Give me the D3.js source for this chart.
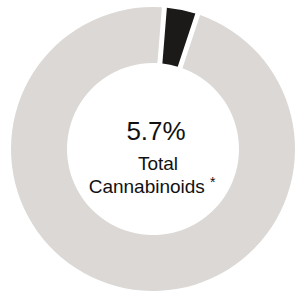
<!DOCTYPE html>
<html>
<head>
<meta charset="utf-8">
<script src="https://cdn.jsdelivr.net/npm/d3@7"></script>
<style>
  body { margin: 0; background: #fff; }
  text { font-family: "Liberation Sans", Arial, sans-serif; fill: #111; }
</style>
</head>
<body>
<div id="chart"></div>
<script>
const WIDTH = 303, HEIGHT = 295;
const CX = 153, CY = 149;
const OUTER_R = 142, INNER_R = 86;

// slices, clockwise from the black one
const slices = ["Cannabinoids", "Other"];
const values = [3.3, 96.7];
const colors = ["#1c1a19", "#dbd8d5"];
const labelLines = ["5.7%", "Total", "Cannabinoids"];

const svg = d3.select("#chart")
    .append("svg")
    .attr("width", WIDTH)
    .attr("height", HEIGHT)
    .append("g").attr("transform", "translate(" + CX + "," + CY + ")");

const startA = 4.6 * Math.PI / 180;
const pie = d3.pie()
    .sort(null)
    .value(d => d)
    .startAngle(startA)
    .endAngle(startA + 2 * Math.PI)
    .padAngle(5 / OUTER_R);

const arc = d3.arc()
    .innerRadius(INNER_R)
    .outerRadius(OUTER_R)
    .padRadius(OUTER_R);

svg.selectAll("path")
    .data(pie(values))
    .enter()
    .append("path")
    .attr("d", arc)
    .attr("fill", (d, i) => colors[i]);

// centre label
svg.append("text")
    .attr("x", 3).attr("y", -9)
    .attr("text-anchor", "middle")
    .style("font-size", "26px")
    .text(labelLines[0]);
svg.append("text")
    .attr("x", 5).attr("y", 21)
    .attr("text-anchor", "middle")
    .style("font-size", "19px")
    .text(labelLines[1]);
const t3 = svg.append("text")
    .attr("x", -1).attr("y", 44)
    .attr("text-anchor", "middle")
    .style("font-size", "19px");
t3.append("tspan").text(labelLines[2]);
t3.append("tspan").attr("dx", 5).attr("dy", -6).style("font-size", "14px").text("*");
</script>
</body>
</html>
